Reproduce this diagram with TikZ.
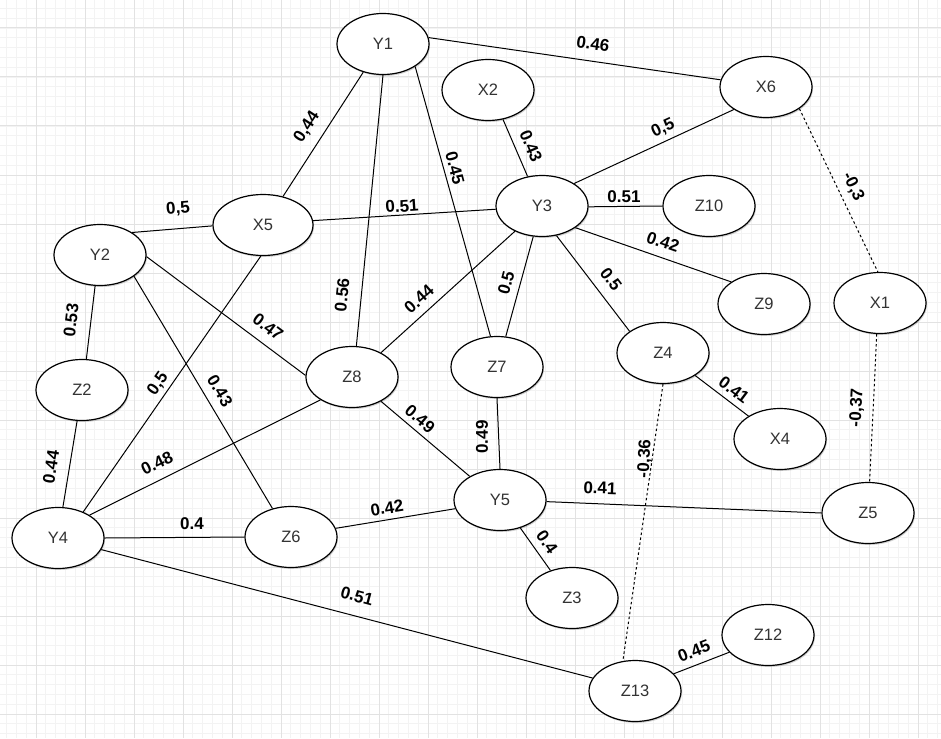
\documentclass[tikz,border=0pt]{standalone}
\usepackage{fontspec}
\setmainfont{Liberation Sans}
\usetikzlibrary{shapes.geometric,shadows}
\definecolor{gmaj}{HTML}{E2E2E2}
\definecolor{gmin}{HTML}{F3F3F3}
\definecolor{ntext}{HTML}{333333}
\begin{document}
\begin{tikzpicture}[x=1pt,y=-1pt,
  nd/.style={ellipse,draw=black,line width=1.2pt,fill=white,minimum width=92pt,minimum height=61pt,inner sep=0pt,
    font=\fontsize{16.5}{19}\selectfont,text=ntext,
    drop shadow={shadow xshift=1pt,shadow yshift=-1.5pt,opacity=0.35}},
  ed/.style={draw=black,line width=1pt},
  dsh/.style={draw=black,line width=1pt,dash pattern=on 2.5pt off 2.5pt},
  lbl/.style={font=\bfseries\fontsize{17}{19}\selectfont,inner sep=0pt}
]
\fill[white] (0,0) rectangle (941,738);
\useasboundingbox (0,0) rectangle (941,738);
% grid
\foreach \i in {0,...,96} \draw[gmin,line width=0.8pt] ({6.6+9.8*\i},0) -- ({6.6+9.8*\i},738);
\foreach \i in {0,...,75} \draw[gmin,line width=0.8pt] (0,{8.4+9.8*\i}) -- (941,{8.4+9.8*\i});
\foreach \i in {0,...,18} \draw[gmaj,line width=1pt] ({36+49*\i},0) -- ({36+49*\i},738);
\foreach \i in {0,...,14} \draw[gmaj,line width=1pt] (0,{28+49*\i}) -- (941,{28+49*\i});

% nodes
\node[nd] (Y1) at (383,44) {Y1};
\node[nd] (X2) at (488,90) {X2};
\node[nd] (X6) at (766,87) {X6};
\node[nd] (Y3) at (542,206) {Y3};
\node[nd] (Z10) at (709,206) {Z10};
\node[nd] (Z9) at (764,304) {Z9};
\node[nd] (X1) at (880,303) {X1};
\node[nd,minimum width=100pt] (X5) at (263,225) {X5};
\node[nd] (Y2) at (100,255) {Y2};
\node[nd] (Z2) at (82,390) {Z2};
\node[nd] (Z8) at (352,377) {Z8};
\node[nd] (Z7) at (497,367) {Z7};
\node[nd] (Z4) at (663,353) {Z4};
\node[nd] (X4) at (780,439) {X4};
\node[nd] (Y4) at (58,538) {Y4};
\node[nd] (Z6) at (291,537) {Z6};
\node[nd] (Y5) at (500,500) {Y5};
\node[nd] (Z5) at (868,513) {Z5};
\node[nd] (Z3) at (572,598) {Z3};
\node[nd] (Z12) at (768,635) {Z12};
\node[nd] (Z13) at (635,691) {Z13};

% edges
\draw[ed] (Y1.8) -- (X6.171);
\draw[ed] (Y1.235) -- (X5.55);
\draw[ed] (Y1.270) -- (Z8.82);
\draw[ed] (Y1.-35) -- (Z7.102);
\draw[ed] (X2.-63) -- (Y3.116);
\draw[ed] (X6.215) -- (Y3.35);
\draw[dsh] (X6.-33) -- (X1.94);
\draw[ed] (Y2.35) -- (X5.181);
\draw[ed] (X5.5) -- (Y3.184);
\draw[ed] (X5.266) -- (Y4.46);
\draw[ed] (Y3.-1) -- (Z10.180);
\draw[ed] (Y3.-33) -- (Z9.146);
\draw[ed] (Y3.-64) -- (Z4.147);
\draw[ed] (Y3.254) -- (Z7.74);
\draw[ed] (Y3.223) -- (Z8.40);
\draw[ed] (Y2.261) -- (Z2.82);
\draw[ed] (Y2.-2) -- (Z8.178);
\draw[ed] (Y2.-32) -- (Z6.123);
\draw[ed] (Z2.261) -- (Y4.81);
\draw[ed] (Y4.36) -- (Z8.216);
\draw[ed] (Y4.0) -- (Z6.180);
\draw[ed] (Y4.-15) -- (Z13.163);
\draw[ed] (Z6.11) -- (Y5.191);
\draw[ed] (Z8.-40) -- (Y5.142);
\draw[ed] (Z7.270) -- (Y5.90);
\draw[ed] (Y5.-2) -- (Z5.180);
\draw[ed] (Y5.-54) -- (Z3.128);
\draw[ed] (Z4.-35) -- (X4.144);
\draw[dsh] (Z4.270) -- (Z13.112);
\draw[dsh] (X1.264) -- (Z5.87);
\draw[ed] (Z13.24) -- (Z12.204);

% labels
\node[lbl,rotate=-8] (l1) at (593,44) {0.46};
\node[lbl,rotate=57] (l2) at (307,127) {0,44};
\node[lbl,rotate=84] (l3) at (342,295) {0.56};
\node[lbl,rotate=-75] (l4) at (455,168) {0.45};
\node[lbl,rotate=-67] (l5) at (531,146) {0.43};
\node[lbl,rotate=25] (l6) at (663,128) {0,5};
\node[lbl,rotate=-64] (l7) at (853,187) {-0,3};
\node[lbl,rotate=5] (l8) at (178,209) {0,5};
\node[lbl,rotate=4] (l9) at (402,206) {0.51};
\node[lbl] (l10) at (624,197) {0.51};
\node[lbl,rotate=-19] (l11) at (663,242) {0.42};
\node[lbl,rotate=-53] (l12) at (611,279) {0.5};
\node[lbl,rotate=75] (l13) at (506,283) {0.5};
\node[lbl,rotate=42] (l14) at (419,299) {0.44};
\node[lbl,rotate=83] (l15) at (71,320) {0.53};
\node[lbl,rotate=-37] (l16) at (268,327) {0.47};
\node[lbl,rotate=-59] (l17) at (220,391) {0.43};
\node[lbl,rotate=55] (l18) at (158,384) {0,5};
\node[lbl,rotate=81] (l19) at (51,467) {0.44};
\node[lbl,rotate=26] (l20) at (157,463) {0.48};
\node[lbl] (l21) at (192,524) {0.4};
\node[lbl,rotate=-15] (l22) at (357,596) {0.51};
\node[lbl,rotate=9] (l23) at (387,508) {0.42};
\node[lbl,rotate=-40] (l24) at (420,419) {0.49};
\node[lbl,rotate=90] (l25) at (482,437) {0.49};
\node[lbl,rotate=-2] (l26) at (600,488) {0.41};
\node[lbl,rotate=-55] (l27) at (547,542) {0.4};
\node[lbl,rotate=-37] (l28) at (734,390) {0.41};
\node[lbl,rotate=87] (l29) at (645,459) {-0,36};
\node[lbl,rotate=87] (l30) at (857,408) {-0,37};
\node[lbl,rotate=21] (l31) at (694,651) {0.45};
\end{tikzpicture}
\end{document}
